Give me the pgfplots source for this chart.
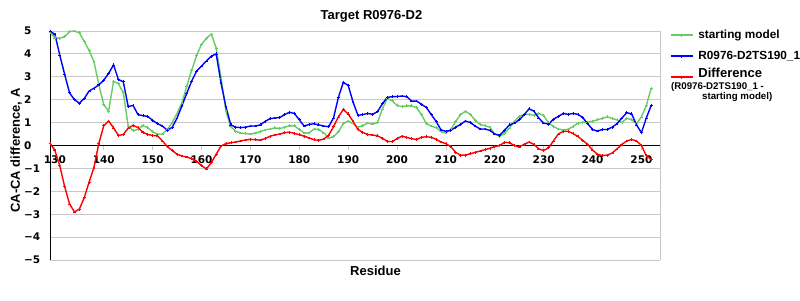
\documentclass[border=0pt]{standalone}
\usepackage{fontspec}
\setmainfont{Liberation Sans}
\newfontfamily\tickfont{DejaVu Sans}
\usepackage{pgfplots}
\usepackage{pgfplotstable}
\pgfplotsset{compat=1.18}
\definecolor{cgreen}{RGB}{102,204,102}
\definecolor{cblue}{RGB}{0,0,255}
\definecolor{cred}{RGB}{255,0,0}
\definecolor{cgrid}{RGB}{200,200,200}
\pgfplotstableread{
r g b d
129 4.95 5.00 0.10
130 4.70 4.85 -0.22
131 4.68 3.95 -0.88
132 4.75 3.10 -1.80
133 4.97 2.30 -2.55
134 5.00 2.00 -2.90
135 4.92 1.85 -2.78
136 4.55 2.05 -2.28
137 4.15 2.38 -1.60
138 3.65 2.50 -0.95
139 2.65 2.65 0.10
140 1.78 2.85 0.86
141 1.50 3.15 1.07
142 2.80 3.52 0.77
143 2.70 2.88 0.44
144 2.30 2.78 0.48
145 0.85 1.70 0.76
146 0.65 1.75 0.88
147 0.70 1.35 0.78
148 0.87 1.30 0.58
149 0.78 1.27 0.48
150 0.60 1.10 0.44
151 0.50 0.95 0.42
152 0.50 0.85 0.20
153 0.70 0.67 -0.05
154 1.00 0.79 -0.22
155 1.40 1.20 -0.38
156 1.87 1.74 -0.46
157 2.60 2.29 -0.50
158 3.30 2.82 -0.58
159 3.93 3.25 -0.70
160 4.42 3.47 -0.88
161 4.68 3.69 -1.02
162 4.87 3.90 -0.75
163 4.25 4.00 -0.38
164 2.95 2.72 -0.02
165 1.50 1.68 0.08
166 0.82 0.90 0.12
167 0.62 0.80 0.15
168 0.55 0.78 0.20
169 0.52 0.80 0.24
170 0.50 0.85 0.27
171 0.55 0.85 0.25
172 0.60 0.90 0.24
173 0.68 1.05 0.30
174 0.72 1.17 0.40
175 0.77 1.20 0.46
176 0.74 1.22 0.50
177 0.80 1.35 0.56
178 0.86 1.45 0.58
179 0.86 1.40 0.53
180 0.70 1.12 0.47
181 0.55 0.85 0.41
182 0.55 0.92 0.33
183 0.72 0.95 0.25
184 0.70 0.90 0.23
185 0.55 0.85 0.28
186 0.33 0.82 0.45
187 0.38 1.20 0.82
188 0.60 2.10 1.25
189 0.95 2.75 1.57
190 1.07 2.63 1.38
191 0.95 1.90 1.05
192 0.80 1.32 0.70
193 0.86 1.35 0.57
194 0.98 1.40 0.48
195 0.94 1.36 0.46
196 1.00 1.48 0.42
197 1.60 1.82 0.32
198 2.05 2.10 0.18
199 1.95 2.13 0.17
200 1.75 2.14 0.30
201 1.70 2.16 0.41
202 1.73 2.13 0.35
203 1.73 1.94 0.30
204 1.65 1.94 0.26
205 1.35 1.80 0.36
206 0.95 1.66 0.38
207 0.85 1.35 0.36
208 0.78 1.05 0.27
209 0.60 0.68 0.15
210 0.55 0.62 0.08
211 0.70 0.66 -0.05
212 1.05 0.80 -0.30
213 1.35 0.92 -0.42
214 1.50 1.07 -0.42
215 1.35 1.00 -0.36
216 1.10 0.85 -0.30
217 0.92 0.72 -0.24
218 0.86 0.72 -0.18
219 0.80 0.66 -0.12
220 0.50 0.50 -0.05
221 0.40 0.45 0.00
222 0.52 0.67 0.14
223 0.76 0.90 0.12
224 1.05 0.98 0.00
225 1.27 1.12 -0.06
226 1.36 1.34 0.05
227 1.36 1.60 0.15
228 1.32 1.50 0.05
229 1.40 1.20 -0.15
230 1.30 0.98 -0.22
231 1.00 0.93 -0.10
232 0.83 1.15 0.20
233 0.72 1.27 0.50
234 0.68 1.40 0.62
235 0.71 1.36 0.62
236 0.83 1.40 0.52
237 0.97 1.36 0.40
238 1.02 1.22 0.22
239 1.02 0.95 0.05
240 1.06 0.70 -0.20
241 1.12 0.63 -0.38
242 1.19 0.70 -0.44
243 1.25 0.70 -0.42
244 1.18 0.80 -0.33
245 1.12 0.95 -0.15
246 1.00 1.20 0.05
247 1.19 1.43 0.20
248 1.12 1.38 0.26
249 0.95 0.90 0.20
250 1.25 0.56 0.00
251 1.75 1.20 -0.45
252 2.50 1.75 -0.60
}\datatable
\begin{document}
\begin{tikzpicture}
\useasboundingbox (-50pt,-40pt) rectangle (750pt,260pt);
\begin{axis}[
  at={(0pt,0pt)}, anchor=south west,
  scale only axis, width=610pt, height=229pt,
  xmin=129, xmax=253.8, ymin=-5, ymax=5,
  clip=false,
  axis x line=middle, axis y line=left,
  axis line style={-, black, line width=0.8pt},
  hide obscured x ticks=false, hide obscured y ticks=false,
  xtick={130,140,...,250},
  xticklabels={130,140,150,160,170,180,190,200,210,220,230,240,250},
  ytick={-5,-4,...,5},
  yticklabels={−5,−4,−3,−2,−1,0,1,2,3,4,5},
  ymajorgrids, grid style={cgrid, line width=0.8pt},
  tick align=outside, major tick length=5pt,
  xtick style={cgrid, line width=0.8pt},
  ytick style={draw=none},
  ticklabel style={font=\tickfont\bfseries\fontsize{10.5}{12}\selectfont},
  xticklabel style={anchor=north, inner sep=0pt, yshift=-5.5pt},
  yticklabel style={anchor=west, inner sep=0pt, xshift=-21pt},
  legend style={at={(axis description cs:1.0164,1.0057)}, anchor=north west,
    draw=none, fill=none, inner sep=0pt, outer sep=0pt,
    row sep=10pt, column sep=5pt,
    font=\bfseries\fontsize{11.8}{13}\selectfont,
    nodes={inner sep=0pt, text height=8.6pt, text depth=2.4pt}},
  legend cell align=left,
  legend image code/.code={\draw[#1, mark repeat=2, mark phase=2] plot coordinates {(0pt,0pt) (11pt,0pt) (22pt,0pt)};},
  every axis plot/.append style={line width=1.4pt, mark=+, mark size=1.4pt, mark options={line width=0.7pt}},
]
\draw[cgrid, line width=0.8pt] (rel axis cs:1,0) -- (rel axis cs:1,1);
\addplot[cgreen] table[x=r, y=g] {\datatable};
\addlegendentry{starting model}
\addplot[cblue] table[x=r, y=b] {\datatable};
\addlegendentry{R0976-D2TS190\_1}
\addplot[cred] table[x=r, y=d] {\datatable};
\addlegendentry{\raisebox{2.5pt}{\fontsize{13}{13}\selectfont Difference}}
\end{axis}
\node[anchor=base, font=\bfseries\fontsize{13}{15}\selectfont] at (321.5pt,240pt) {Target R0976-D2};
\node[anchor=base, font=\bfseries\fontsize{13}{15}\selectfont] at (325.5pt,-15pt) {Residue};
\node[anchor=base, rotate=90, font=\bfseries\fontsize{13}{15}\selectfont] at (-30pt,109.5pt) {CA-CA difference, A};
\node[anchor=west, inner sep=0pt, font=\bfseries\fontsize{9.7}{11}\selectfont] at (621pt,173pt) {(R0976-D2TS190\_1 -};
\node[anchor=west, inner sep=0pt, font=\bfseries\fontsize{9.7}{11}\selectfont] at (652pt,162.5pt) {starting model)};
\end{tikzpicture}
\end{document}
